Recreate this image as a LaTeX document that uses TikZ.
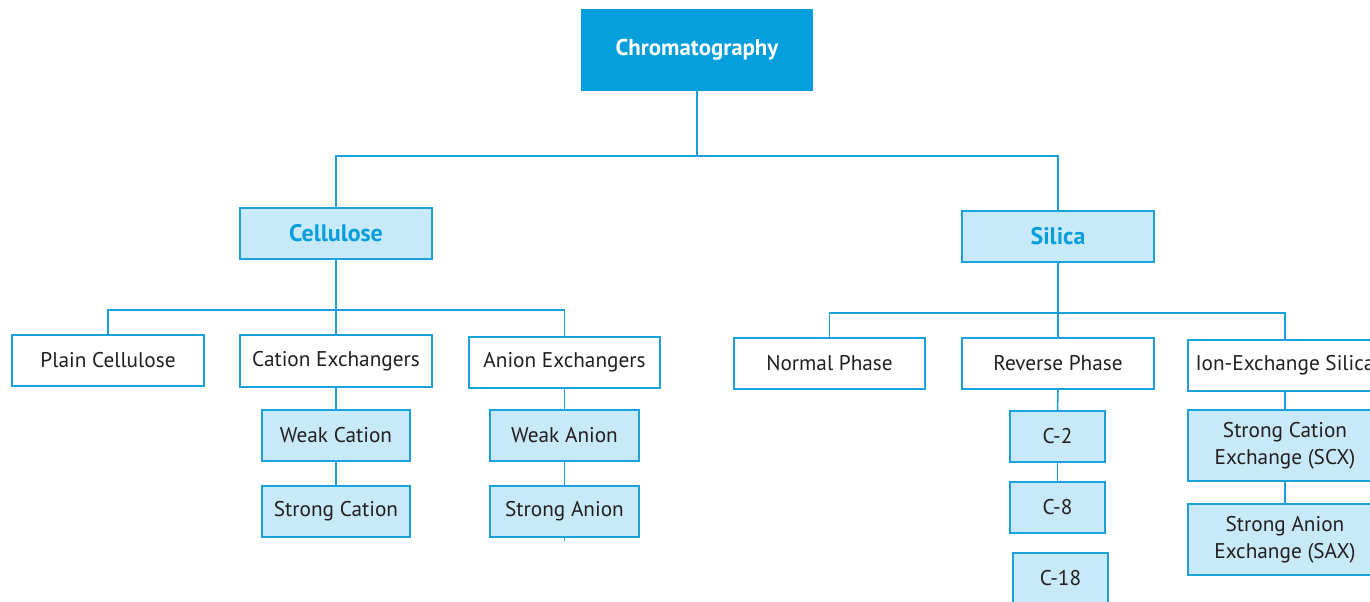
\documentclass[tikz,border=0pt]{standalone}
\usepackage{fontspec}
\setmainfont{PT Sans}
\definecolor{chromblue}{RGB}{6,158,219}
\definecolor{paleblue}{RGB}{199,233,248}
\definecolor{linkblue}{RGB}{27,161,219}
\definecolor{inktext}{RGB}{35,31,32}
\begin{document}
\begin{tikzpicture}[x=0.02cm,y=-0.02cm,
  box/.style={draw=linkblue,line width=1pt,inner sep=0pt,align=center,text=inktext,font=\fontsize{12.1pt}{15.5pt}\selectfont},
  top/.style={box,fill=chromblue,draw=chromblue,text=white,font=\fontsize{13pt}{15pt}\selectfont\bfseries},
  sub/.style={box,fill=paleblue,text=chromblue,font=\fontsize{13.6pt}{15pt}\selectfont\bfseries},
  kind/.style={box,fill=white},
  leaf/.style={box,fill=paleblue},
  link/.style={draw=linkblue,line width=0.9pt}]
\clip (0,0) rectangle (1370,602);
\fill [white] (0,0) rectangle (1370,602);

\node (chrom) at (697, 50) [top,minimum width=230*0.02cm,minimum height=80*0.02cm] {Chromatography};
\node (cell) at (336, 233.5) [sub,minimum width=192*0.02cm,minimum height=51*0.02cm] {Cellulose};
\node (sil) at (1058, 236.5) [sub,minimum width=192*0.02cm,minimum height=51*0.02cm] {Silica};

\node (plain) at (108, 360.5) [kind,minimum width=192*0.02cm,minimum height=51*0.02cm] {Plain Cellulose};
\node (cation) at (336, 361) [kind,minimum width=192*0.02cm,minimum height=52*0.02cm] {Cation Exchangers};
\node (anion) at (564.5, 362.5) [kind,minimum width=191*0.02cm,minimum height=51*0.02cm] {Anion Exchangers};
\node (normal) at (829.5, 363.5) [kind,minimum width=191*0.02cm,minimum height=51*0.02cm] {Normal Phase};
\node (reverse) at (1058, 363.5) [kind,minimum width=192*0.02cm,minimum height=51*0.02cm] {Reverse Phase};
\node (ionex) at (1285, 365.5) [kind,minimum width=194*0.02cm,minimum height=51*0.02cm] {Ion-Exchange Silica};

\node (wcat) at (336, 435.5) [leaf,minimum width=148*0.02cm,minimum height=51*0.02cm] {Weak Cation};
\node (scat) at (336, 511.5) [leaf,minimum width=148*0.02cm,minimum height=51*0.02cm] {Strong Cation};
\node (wan) at (564.5, 435.5) [leaf,minimum width=149*0.02cm,minimum height=51*0.02cm] {Weak Anion};
\node (san) at (564.5, 511.5) [leaf,minimum width=149*0.02cm,minimum height=51*0.02cm] {Strong Anion};
\node (c2) at (1057.5, 436.5) [leaf,minimum width=95*0.02cm,minimum height=51*0.02cm] {C-2};
\node (c8) at (1057.5, 507.5) [leaf,minimum width=95*0.02cm,minimum height=51*0.02cm] {C-8};
\node (c18) at (1060.5, 578.5) [leaf,minimum width=95*0.02cm,minimum height=51*0.02cm] {C-18};
\node (scx) at (1285, 445.5) [leaf,minimum width=194*0.02cm,minimum height=71*0.02cm] {Strong Cation\\Exchange (SCX)};
\node (sax) at (1285, 539.5) [leaf,minimum width=194*0.02cm,minimum height=71*0.02cm] {Strong Anion\\Exchange (SAX)};

% tree links
\draw [link] (chrom.south) -- (697, 156) -| (cell.north);
\draw [link] (697, 156) -| (sil.north);
\draw [link] (cell.south) -- (336, 310) -| (plain.north);
\draw [link] (336, 310) -- (cation.north);
\draw [link] (336, 310) -| (anion.north);
\draw [link] (sil.south) -- (1058, 313) -| (ionex.north);
\draw [link] (1058, 313) -| (normal.north);
\draw [link] (1058, 313) -- (reverse.north);
\draw [link] (cation.south) -- (wcat.north);
\draw [link] (wcat.south) -- (scat.north);
\draw [link] (anion.south) -- (wan.north);
\draw [link] (wan.south) -- (san.north);
\coordinate (stub) at (564.5, 541);
\draw [link] (san.south) -- (stub);
\draw [link] (reverse.south) -- (c2.north);
\draw [link] (c2.south) -- (c8.north);
\draw [link] (ionex.south) -- (scx.north);
\draw [link] (scx.south) -- (sax.north);
\end{tikzpicture}
\end{document}
